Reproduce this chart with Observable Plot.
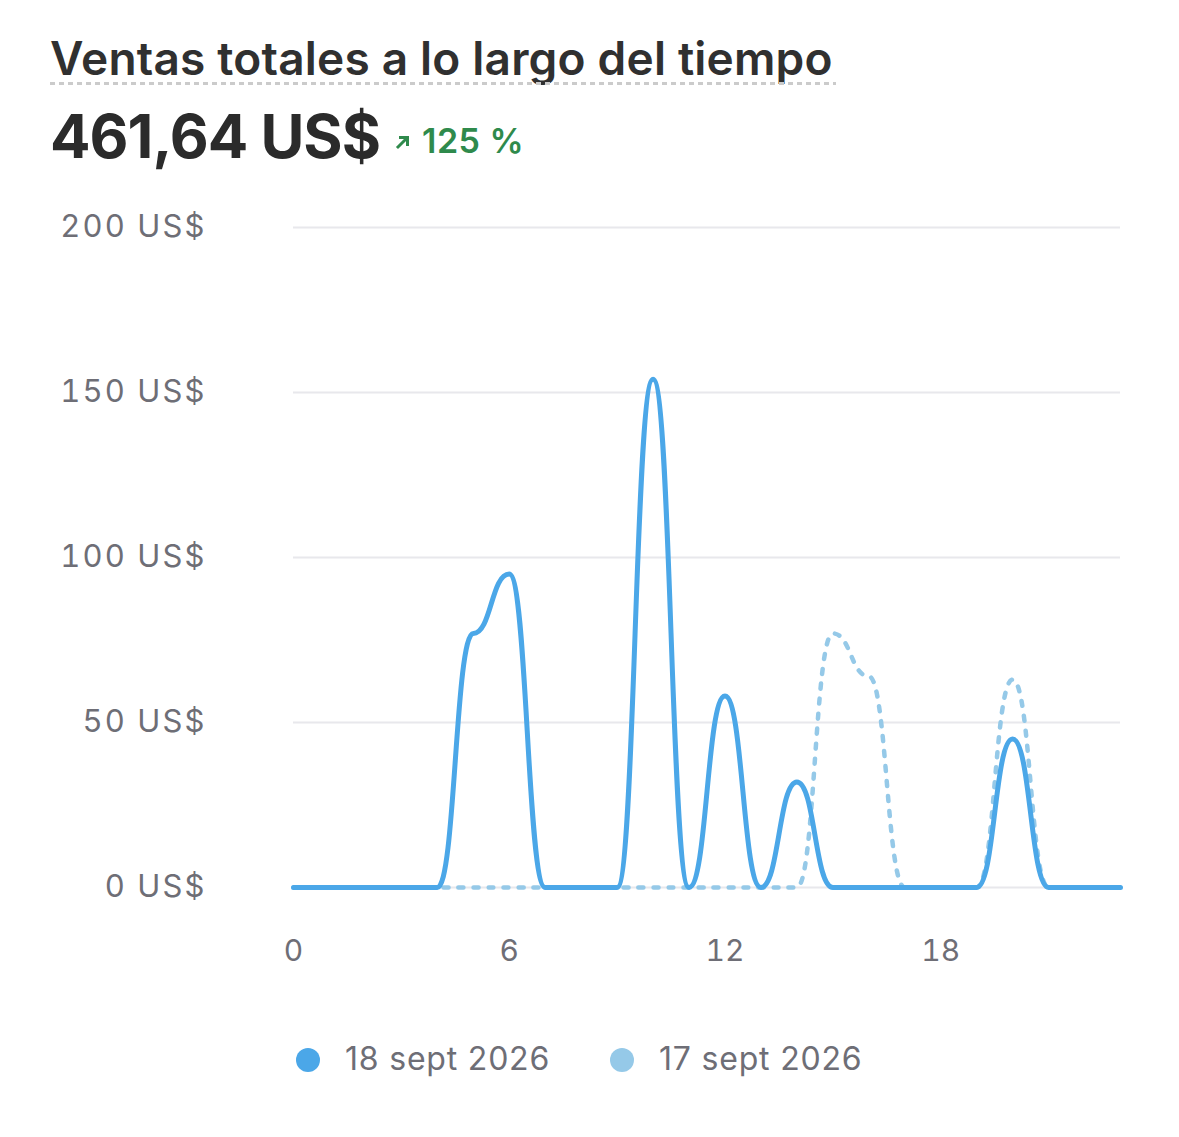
<!DOCTYPE html>
<html>
<head>
<meta charset="utf-8">
<script src="https://cdn.jsdelivr.net/npm/d3@7"></script>
<script src="https://cdn.jsdelivr.net/npm/@observablehq/plot@0.6"></script>
<style>
  html, body { margin: 0; padding: 0; background: #ffffff; }
  body { width: 1179px; height: 1137px; position: relative; font-family: Inter, "Noto Sans", sans-serif; overflow: hidden; }
  .abs { position: absolute; white-space: nowrap; line-height: 1; }
  #title { left: 50px; top: 35px; font-size: 46px; font-weight: 600; color: #303030; letter-spacing: 0.2px; }
  #underline { left: 50px; top: 82px; width: 786px; height: 3px;
    background: repeating-linear-gradient(to right, #cbcbcb 0 5px, transparent 5px 9px); }
  #total { left: 50px; top: 106px; font-size: 60px; font-weight: 700; color: #2b2b2b; letter-spacing: -1px; }
  #change { left: 395px; top: 124px; font-size: 34px; font-weight: 600; color: #2f8a4c; letter-spacing: 0.5px; }
  #chart { left: 0; top: 195px; }
  .leg { top: 1043px; font-size: 32px; color: #6e6e76; letter-spacing: 0.8px; }
  .dot { position: absolute; width: 24px; height: 24px; border-radius: 50%; top: 1048px; }
  .salesplot g[aria-label="y-axis tick label"] text { letter-spacing: 2.1px; }
</style>
</head>
<body>
<div id="title" class="abs"></div>
<div id="underline" class="abs"></div>
<div id="total" class="abs"></div>
<div id="change" class="abs"></div>
<div id="chart" class="abs"></div>
<div id="legend"></div>
<script>
const titleText = "Ventas totales a lo largo del tiempo";
const totalText = "461,64 US$";
const changeText = "125 %";
const hours = [0,1,2,3,4,5,6,7,8,9,10,11,12,13,14,15,16,17,18,19,20,21,22,23];
const sales18 = [0,0,0,0,0,77,95,0,0,0,154,0,58,0,32,0,0,0,0,0,45,0,0,0];
const sales17 = [0,0,0,0,0,0,0,0,0,0,0,0,0,0,0,77,64,0,0,0,63,0,0,0];
const yTicks = [0,50,100,150,200];
const xTicks = [0,6,12,18];
const seriesNames = ["18 sept 2026", "17 sept 2026"];
const seriesColors = ["#4ba7e8", "#95c9e8"];

document.getElementById("title").textContent = titleText;
document.getElementById("total").textContent = totalText;
document.getElementById("change").innerHTML =
  '<svg width="16" height="16" viewBox="0 0 16 16" style="vertical-align:3px;margin-right:11px"><path d="M3 13 L12 4 M5.5 3.5 H12.5 V10.5" stroke="#2f8a4c" stroke-width="3" fill="none" stroke-linecap="square"/></svg>' + changeText;

const d18 = hours.map((h, i) => ({hour: h, value: sales18[i]}));
const d17 = hours.map((h, i) => ({hour: h, value: sales17[i]}));

const chart = Plot.plot({
  className: "salesplot",
  width: 1179,
  height: 800,
  marginTop: 32,
  marginLeft: 293,
  marginRight: 59,
  marginBottom: 108,
  style: { fontFamily: "Inter, 'Noto Sans', sans-serif", fontSize: "30px", color: "#6e6e76", background: "transparent", overflow: "visible" },
  x: { domain: [0, 23], label: null },
  y: { domain: [0, 200], label: null },
  marks: [
    Plot.gridY(yTicks, { stroke: "#e8e8ec", strokeOpacity: 1, strokeWidth: 2 }),
    Plot.axisY(yTicks, { tickSize: 0, tickPadding: 87, tickFormat: d => `${d} US$`, fill: "#6e6e76", label: null, fontSize: 31 }),
    Plot.axisX(xTicks, { tickSize: 0, tickPadding: 52, fill: "#6e6e76", label: null }),
    Plot.line(d17, { x: "hour", y: "value", curve: "bump-x", stroke: seriesColors[1], strokeWidth: 4.5, strokeDasharray: "5,10", strokeLinecap: "round" }),
    Plot.line(d18, { x: "hour", y: "value", curve: "bump-x", stroke: seriesColors[0], strokeWidth: 5, strokeLinecap: "round" })
  ]
});
document.getElementById("chart").appendChild(chart);

const legend = document.getElementById("legend");
const legX = [296, 610];
seriesNames.forEach((name, i) => {
  const dot = document.createElement("div");
  dot.className = "dot";
  dot.style.left = legX[i] + "px";
  dot.style.background = seriesColors[i];
  legend.appendChild(dot);
  const t = document.createElement("div");
  t.className = "abs leg";
  t.style.left = (legX[i] + 49) + "px";
  t.textContent = name;
  legend.appendChild(t);
});
</script>
</body>
</html>
